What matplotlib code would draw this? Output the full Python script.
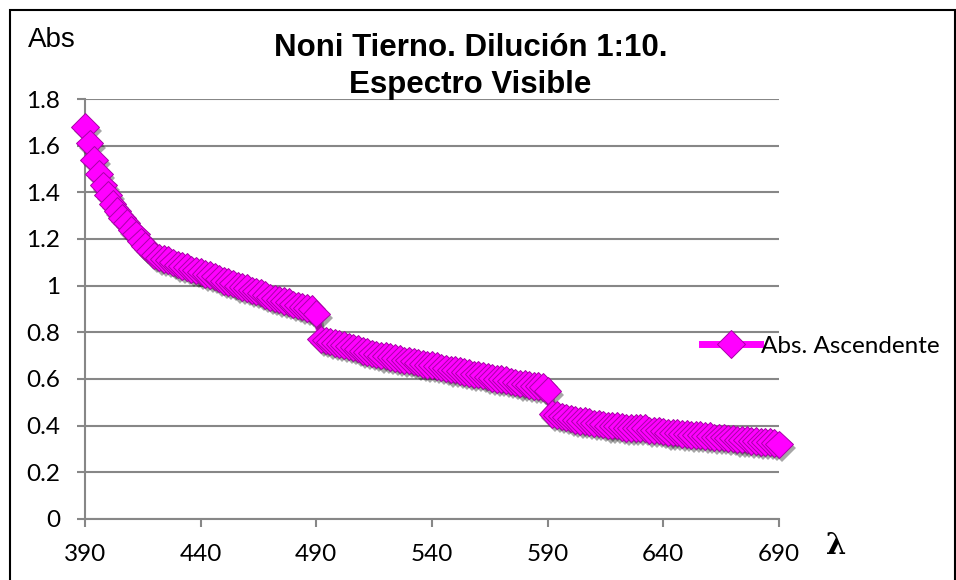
import numpy as np
import matplotlib
matplotlib.use('Agg')
import matplotlib.pyplot as plt
import matplotlib.patheffects as pe
from matplotlib.patches import Rectangle
from matplotlib.lines import Line2D
from matplotlib.ticker import FuncFormatter

# longitud de onda (nm), cada 2 nm
wavelength = np.arange(390, 691, 2)
# absorbancia
abs_asc = [
    1.68, 1.61, 1.54, 1.48, 1.43, 1.39, 1.35, 1.32, 1.29, 1.27,   # 390-408
    1.24, 1.22, 1.19, 1.17, 1.15, 1.13, 1.12, 1.115, 1.11, 1.10,  # 410-428
    1.09, 1.085, 1.08, 1.07, 1.065, 1.06, 1.05, 1.045, 1.04, 1.03,  # 430-448
    1.02, 1.015, 1.01, 1.00, 0.995, 0.99, 0.98, 0.975, 0.97, 0.96,  # 450-468
    0.95, 0.945, 0.94, 0.935, 0.93, 0.92, 0.915, 0.91, 0.905, 0.90,  # 470-488
    0.88, 0.77, 0.765, 0.76, 0.755, 0.75, 0.745, 0.74, 0.735, 0.73,  # 490-508
    0.72, 0.715, 0.71, 0.705, 0.70, 0.70, 0.695, 0.69, 0.685, 0.68,  # 510-528
    0.68, 0.675, 0.67, 0.665, 0.66, 0.66, 0.655, 0.65, 0.645, 0.64,  # 530-548
    0.64, 0.635, 0.63, 0.625, 0.62, 0.62, 0.615, 0.61, 0.605, 0.60,  # 550-568
    0.60, 0.595, 0.59, 0.585, 0.58, 0.58, 0.575, 0.57, 0.57, 0.565,  # 570-588
    0.55, 0.45, 0.445, 0.44, 0.435, 0.43, 0.425, 0.42, 0.42, 0.415,  # 590-608
    0.41, 0.41, 0.405, 0.40, 0.40, 0.40, 0.395, 0.39, 0.39, 0.39,  # 610-628
    0.39, 0.39, 0.38, 0.38, 0.38, 0.375, 0.37, 0.37, 0.37, 0.365,  # 630-648
    0.365, 0.36, 0.36, 0.36, 0.355, 0.355, 0.35, 0.35, 0.35, 0.345,  # 650-668
    0.345, 0.34, 0.34, 0.34, 0.335, 0.335, 0.33, 0.33, 0.33, 0.325,  # 670-688
    0.32,  # 690
]
xticks = [390, 440, 490, 540, 590, 640, 690]
yticks = [0, 0.2, 0.4, 0.6, 0.8, 1.0, 1.2, 1.4, 1.6, 1.8]

grey = '#878787'
magenta = '#FF00FF'
edge = '#A800A8'

fig = plt.figure(figsize=(9.56, 5.8), dpi=100)
ax = fig.add_axes([0.0889, 0.1052, 0.7260, 0.7241])

# linea y marcadores por separado para que la sombra no rellene la curva
ax.plot(wavelength, abs_asc, color=magenta, lw=5, clip_on=False, zorder=3,
        path_effects=[pe.SimpleLineShadow(offset=(2, -3), shadow_color='k', alpha=0.3),
                      pe.Normal()])
ax.plot(wavelength, abs_asc, ls='none', marker='D', ms=14,
        mfc=magenta, mec=edge, mew=0.7, clip_on=False, zorder=4,
        path_effects=[pe.SimplePatchShadow(offset=(2, -3), shadow_rgbFace='k', alpha=0.35),
                      pe.Normal()])

ax.set_xlim(390, 690)
ax.set_ylim(0, 1.8)
ax.set_xticks(xticks)
ax.set_yticks(yticks)
ax.yaxis.set_major_formatter(FuncFormatter(lambda v, p: f'{v:g}'))

for s in ['top', 'right']:
    ax.spines[s].set_visible(False)
for s in ['left', 'bottom']:
    ax.spines[s].set_color(grey)
    ax.spines[s].set_linewidth(1.5)
ax.yaxis.grid(True, color=grey, lw=1.5)
ax.set_axisbelow(True)
ax.tick_params(direction='out', length=6, width=1.5, color=grey,
               labelsize=17.5, pad=12)
for lab in ax.get_xticklabels() + ax.get_yticklabels():
    lab.set_family('Lato')

handle = Line2D([], [], color=magenta, lw=5, marker='D', ms=14,
                mfc=magenta, mec=edge, mew=0.7)
ax.legend([handle], ['Abs. Ascendente'], loc='center left',
          bbox_to_anchor=(0.734, 0.403), bbox_transform=fig.transFigure,
          frameon=False, handlelength=2.4, handletextpad=0.05, borderpad=0,
          borderaxespad=0, prop={'family': 'Lato', 'size': 17.5})

fig.text(0.492, 1 - 56 / 580, 'Noni Tierno. Dilución 1:10.', ha='center',
         va='baseline', fontsize=22.5, fontweight='bold', family='Liberation Sans')
fig.text(0.492, 1 - 93 / 580, 'Espectro Visible', ha='center',
         va='baseline', fontsize=22.5, fontweight='bold', family='Liberation Sans')
fig.text(0.029, 1 - 47 / 580, 'Abs', ha='left', va='baseline', fontsize=20,
         family='Liberation Sans')
fig.text(0.875, 0.06, 'λ', ha='center', va='center', fontsize=21,
         fontweight='bold', family='DejaVu Serif')

fig.add_artist(Rectangle((9.5 / 956, -0.1), 945 / 956, 1.1 - 10.5 / 580,
                         transform=fig.transFigure, fill=False, ec='k', lw=1.5))

fig.savefig('out.png', dpi=100, facecolor='white')
